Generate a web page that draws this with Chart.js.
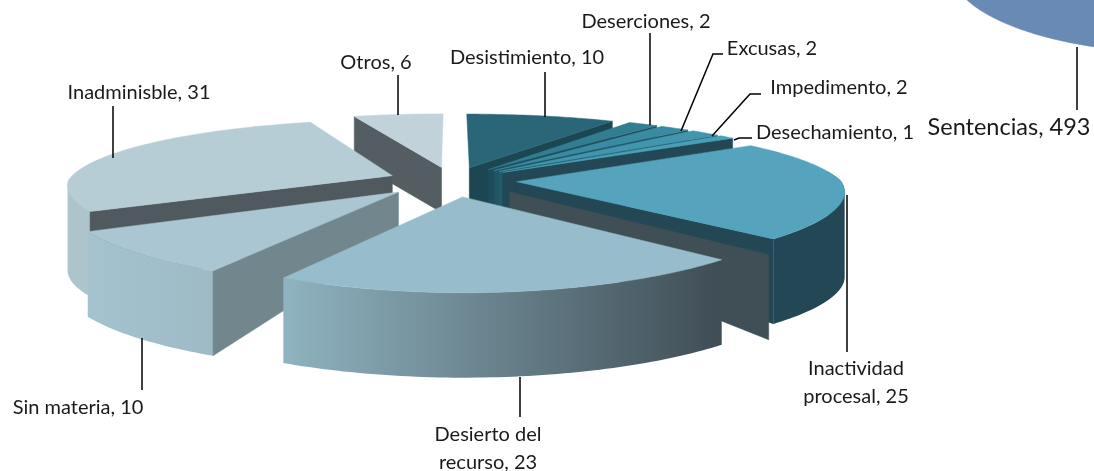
<!DOCTYPE html>
<html>
<head>
<meta charset="utf-8">
<style>
  body { margin: 0; background: #fff; }
  canvas { position: absolute; left: 0; top: 0; }
</style>
<script src="https://cdn.jsdelivr.net/npm/chart.js@4"></script>
</head>
<body>
<canvas id="bigPie" width="1094" height="471"></canvas>
<canvas id="myChart" width="1094" height="471"></canvas>
<script>
// values
const categories = ['Desistimiento', 'Deserciones', 'Excusas', 'Impedimento', 'Desechamiento',
    'Inactividad procesal', 'Desierto del recurso', 'Sin materia', 'Inadminisble', 'Otros'];
const values = [10, 2, 2, 2, 1, 25, 23, 10, 31, 6];
const bigCategory = 'Sentencias';
const bigValue = 493;

// slice colours
const topColors = ['#2b6678', '#327d92', '#3a8aa2', '#4295ad', '#4a9eb7', '#55a3bd', '#97bccc', '#a9c6d2', '#b7cdd6', '#c1d2da'];
const cutColors = ['#1b4652', '#1d4d5b', '#1f5564', '#215c6c', '#234754', '#234754', '#3f4f55', '#72868e', '#505a5e', '#545e62'];
const rimFrom = ['#1b4652', '#1d4d5b', '#1f5564', '#215c6c', '#234754', '#234754', '#8fb3c0', '#a5c3cf', '#aec4cc', '#545e62'];
const rimTo = ['#1b4652', '#1d4d5b', '#1f5564', '#215c6c', '#234754', '#234754', '#3f4d55', '#9dbac5', '#aec4cc', '#545e62'];

// how far each slice is pulled out
const sliceOffsets = [129, 129, 129, 129, 129, 129, 148, 148, 129, 129];

// label text position and leader line, same order as categories
const labelLayout = [
    { x: 527, y: 58, words: 9, line: [[545, 72], [545, 117]] },
    { x: 646, y: 22, words: 9, line: [[650, 33], [650, 125]] },
    { x: 772, y: 49, words: 9, line: [[681, 131], [713, 54], [723, 54]] },
    { x: 839, y: 88, words: 9, line: [[712, 136], [750, 94], [761, 94]] },
    { x: 835, y: 133, words: 9, line: [[734, 140], [739, 138], [752, 138]] },
    { x: 856, y: 369, words: 1, line: [[847, 195], [847, 352]] },
    { x: 488, y: 435, words: 2, line: [[520, 377], [520, 417]] },
    { x: 78, y: 408, words: 9, line: [[142, 338], [142, 390]] },
    { x: 139, y: 93, words: 9, line: [[113, 106], [113, 158]] },
    { x: 376, y: 63, words: 9, line: [[398, 75], [398, 115]] }
];

const clamp01 = t => Math.max(0, Math.min(1, t));

function project(cfg, u, v) {
    const px = v > 0 ? cfg.pxBack : cfg.px;
    return {
        x: cfg.x0 + cfg.a * u / (1 + px * v),
        y: cfg.y0 - cfg.b * v / (1 + cfg.py * v)
    };
}

// one point of a slice, rho 0 = tip, 1 = rim, drop = on the bottom face
function slicePoint(cfg, el, angle, rho, drop) {
    const mid = (el.startAngle + el.endAngle) / 2;
    const explode = (el.options.offset || 0) / 4 / el.outerRadius;
    const u = explode * Math.cos(mid) + rho * Math.cos(angle);
    const v = -explode * Math.sin(mid) - rho * Math.sin(angle);
    const p = project(cfg, u, v);
    if (drop) {
        p.y += cfg.h0 + cfg.h1 * rho * clamp01(1 - v);
    }
    return p;
}

function fillPoly(ctx, pts, fill) {
    ctx.beginPath();
    pts.forEach((p, i) => i ? ctx.lineTo(p.x, p.y) : ctx.moveTo(p.x, p.y));
    ctx.closePath();
    ctx.fillStyle = fill;
    ctx.fill();
    ctx.strokeStyle = fill;
    ctx.lineWidth = 0.5;
    ctx.stroke();
}

function arcPoints(cfg, el, from, to, drop) {
    const pts = [];
    const steps = Math.max(2, Math.ceil((to - from) / 0.02));
    for (let s = 0; s <= steps; s++) {
        pts.push(slicePoint(cfg, el, from + (to - from) * s / steps, 1, drop));
    }
    return pts;
}

function cutWall(cfg, el, angle) {
    return [slicePoint(cfg, el, angle, 0, false), slicePoint(cfg, el, angle, 1, false),
        slicePoint(cfg, el, angle, 1, true), slicePoint(cfg, el, angle, 0, true)];
}

// all strips go in one path, each turned the same way, so nothing cancels and no seams show
function fillRim(ctx, upper, lower, fill) {
    ctx.beginPath();
    for (let s = 0; s < upper.length - 1; s++) {
        let quad = [upper[s], upper[s + 1], lower[s + 1], lower[s]];
        const turn = (quad[1].x - quad[0].x) * (quad[2].y - quad[0].y) - (quad[1].y - quad[0].y) * (quad[2].x - quad[0].x);
        if (turn < 0) quad = quad.reverse();
        quad.forEach((p, n) => n ? ctx.lineTo(p.x, p.y) : ctx.moveTo(p.x, p.y));
        ctx.closePath();
    }
    ctx.fillStyle = fill;
    ctx.fill();
}

function drawSlice(ctx, cfg, el, i) {
    const { startAngle: a0, endAngle: a1 } = el;
    const top = [slicePoint(cfg, el, a0, 0, false)].concat(arcPoints(cfg, el, a0, a1, false));

    if (cfg.h0 > 0) {
        // the cut face that shows behind the Desierto slice
        if (cfg.ghost && cfg.ghost.index === i) {
            const shifted = cutWall(cfg, el, a0).map(p => ({ x: p.x + cfg.ghost.dx, y: p.y + cfg.ghost.dy }));
            fillPoly(ctx, shifted, cutColors[i]);
        }

        // rim on the front half, a little past the sides so the outline closes
        const from = Math.max(a0, -0.15);
        const to = Math.min(a1, Math.PI + 0.25);
        if (to > from) {
            const upper = arcPoints(cfg, el, from, to, false);
            const lower = arcPoints(cfg, el, from, to, true);
            const xs = upper.map(p => p.x);
            const grad = ctx.createLinearGradient(Math.min(...xs), 0, Math.max(...xs), 0);
            grad.addColorStop(0, rimFrom[i]);
            grad.addColorStop(1, rimTo[i]);
            fillRim(ctx, upper, lower, grad);
        }

        // a cut face shows only when it turns toward the viewer
        if (Math.cos(a0) < 0) fillPoly(ctx, cutWall(cfg, el, a0), cutColors[i]);
        if (Math.cos(a1) > 0) fillPoly(ctx, cutWall(cfg, el, a1), cutColors[i]);
    }
    fillPoly(ctx, top, el.options.backgroundColor);
}

const pie3d = {
    id: 'pie3d',
    beforeDatasetDraw(chart, args, opts) {
        const ctx = chart.ctx;
        const arcs = chart.getDatasetMeta(args.index).data.map((el, i) => ({ el, i }));
        const depth = el => Math.sin((el.startAngle + el.endAngle) / 2);
        // back to front
        arcs.sort((p, q) => depth(p.el) - depth(q.el));
        ctx.save();
        arcs.forEach(({ el, i }) => {
            if (el.options.backgroundColor !== 'transparent') drawSlice(ctx, opts, el, i);
        });
        ctx.restore();
        return false;
    }
};

function drawLabel(ctx, text, layout, font, lineGap) {
    ctx.font = font;
    ctx.fillStyle = '#1a1a1a';
    ctx.textAlign = 'center';
    ctx.textBaseline = 'middle';
    const words = text.split(' ');
    const lines = layout.words < words.length
        ? [words.slice(0, layout.words).join(' '), words.slice(layout.words).join(' ')]
        : [text];
    lines.forEach((line, n) => ctx.fillText(line, layout.x, layout.y + n * lineGap));
    ctx.strokeStyle = '#000';
    ctx.lineWidth = 1.5;
    ctx.beginPath();
    layout.line.forEach(([x, y], n) => n ? ctx.lineTo(x, y) : ctx.moveTo(x, y));
    ctx.stroke();
}

const labelsPlugin = {
    id: 'labelsPlugin',
    afterDraw(chart) {
        const ctx = chart.ctx;
        ctx.save();
        categories.forEach((name, i) => {
            drawLabel(ctx, name + ', ' + values[i], labelLayout[i], '20px Lato', 28);
        });
        drawLabel(ctx, bigCategory + ', ' + bigValue,
            { x: 1009, y: 127, words: 9, line: [[1077, 47], [1077, 110]] }, '23.5px Lato', 28);
        ctx.restore();
    }
};

const baseOptions = {
    responsive: false,
    animation: false,
    layout: { padding: 0 }
};

// the big pie sits almost all outside the picture, only its lower edge shows
new Chart(document.getElementById('bigPie').getContext('2d'), {
    type: 'pie',
    data: {
        labels: [bigCategory, 'Resto'],
        datasets: [{
            data: [bigValue, values.reduce((s, n) => s + n, 0)],
            backgroundColor: ['#6a8ab6', 'transparent'],
            borderWidth: 0
        }]
    },
    plugins: [pie3d],
    options: {
        ...baseOptions,
        plugins: {
            legend: { display: false },
            tooltip: { enabled: false },
            pie3d: { x0: 1180, y0: -32, a: 230, b: 85, px: 0, pxBack: 0, py: 0, h0: 0, h1: 0 }
        }
    }
});

new Chart(document.getElementById('myChart').getContext('2d'), {
    type: 'pie',
    data: {
        labels: categories,
        datasets: [{
            data: values,
            backgroundColor: topColors,
            borderWidth: 0,
            offset: sliceOffsets
        }]
    },
    plugins: [pie3d, labelsPlugin],
    options: {
        ...baseOptions,
        plugins: {
            legend: { display: false },
            tooltip: { enabled: false },
            pie3d: {
                x0: 452, y0: 180.5, a: 324, b: 69, px: 0.12, pxBack: 0.18, py: 0.2,
                h0: 45, h1: 40,
                ghost: { index: 6, dx: 47, dy: -5 }
            }
        }
    }
});
</script>
</body>
</html>
